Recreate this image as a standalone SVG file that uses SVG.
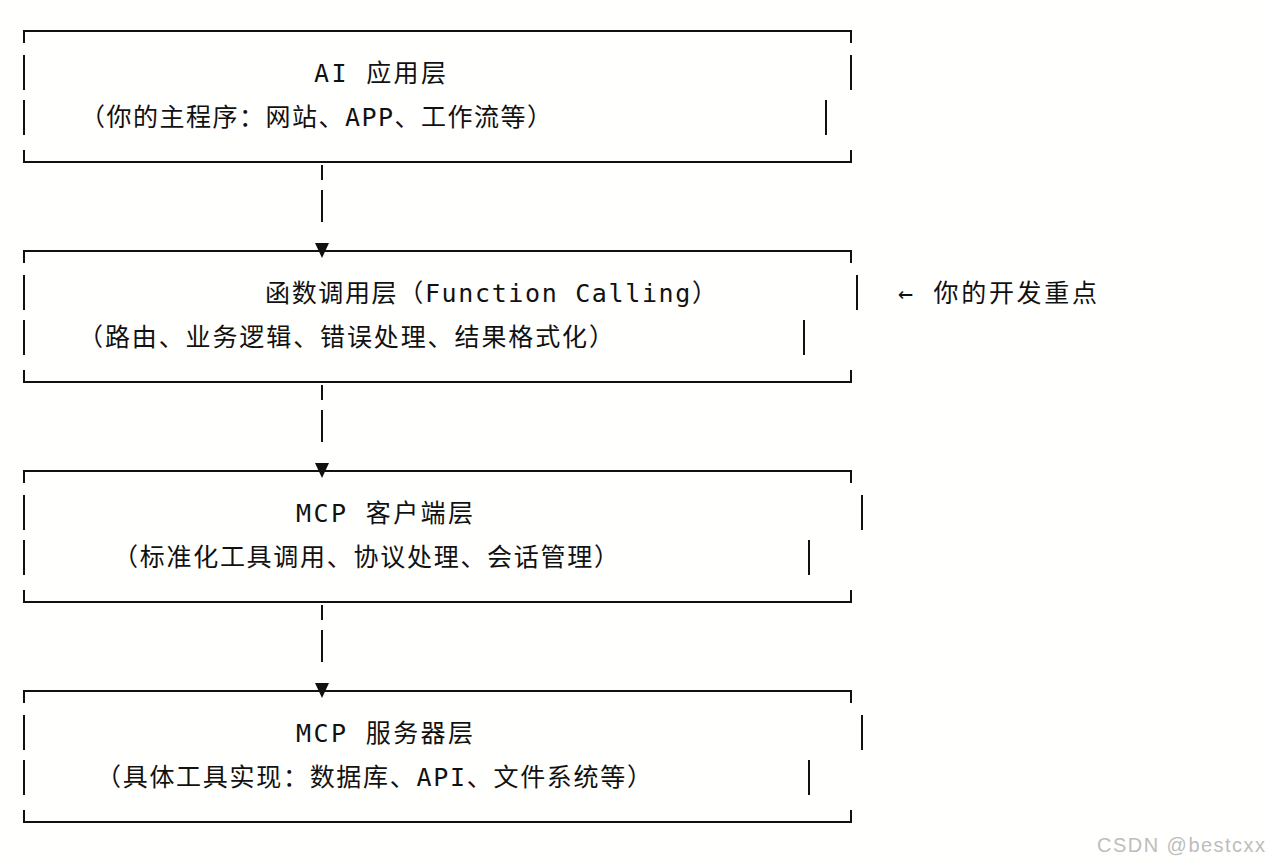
<svg xmlns="http://www.w3.org/2000/svg" width="1270" height="866" viewBox="0 0 1270 866">
<style>
.b{stroke:#111;stroke-width:2;fill:none}
.t{font-family:"DejaVu Sans Mono","Noto Sans CJK SC",monospace;font-size:25px;fill:#111}
.c{stroke:#111;stroke-width:2;fill:none}
</style>
<rect width="1270" height="866" fill="#fffffd"/>
<g id="n1">
<path class="b" d="M24,43V31H851V43M24,150V162H851V150M24,55V90M24,100V135M851,55V90M826,100V135"/>
<text class="t" x="314" y="82" textLength="132">AI 应用层</text>
<text class="t" x="80" y="126" textLength="472">（你的主程序：网站、APP、工作流等）</text>
</g>
<g id="n2">
<path class="b" d="M24,263V251H851V263M24,370V382H851V370M24,275V310M24,320V355M857,275V310M804,320V355"/>
<text class="t" x="265" y="302" textLength="452">函数调用层（Function Calling）</text>
<text class="t" x="78" y="346" textLength="536">（路由、业务逻辑、错误处理、结果格式化）</text>
</g>
<g id="n3">
<path class="b" d="M24,483V471H851V483M24,590V602H851V590M24,495V530M24,540V575M862,495V530M809,540V575"/>
<text class="t" x="296" y="522" textLength="177">MCP 客户端层</text>
<text class="t" x="113" y="566" textLength="506">（标准化工具调用、协议处理、会话管理）</text>
</g>
<g id="n4">
<path class="b" d="M24,703V691H851V703M24,810V822H851V810M24,715V750M24,760V795M862,715V750M809,760V795"/>
<text class="t" x="296" y="742" textLength="177">MCP 服务器层</text>
<text class="t" x="96" y="786" textLength="556">（具体工具实现：数据库、API、文件系统等）</text>
</g>
<g id="note"><text class="t" x="898" y="302" textLength="199">← 你的开发重点</text></g>
<g id="connectors">
<path class="c" d="M322,165V180M322,190V222M322,385V400M322,410V442M322,605V620M322,630V662"/>
<path d="M315,243H329L322,258Z M315,463H329L322,478Z M315,683H329L322,698Z" fill="#111"/>
</g>
<text x="1097" y="852" font-family="Liberation Sans,sans-serif" font-size="20" textLength="168" fill="#bdbdbd">CSDN @bestcxx</text>
</svg>
